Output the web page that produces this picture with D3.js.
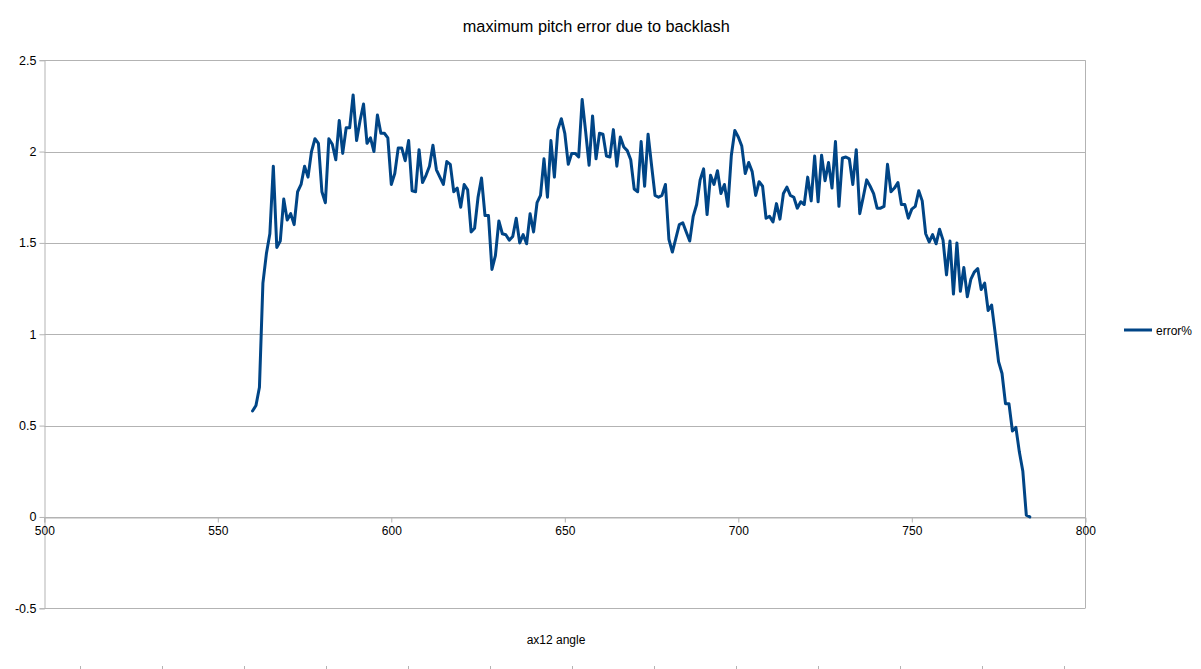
<!DOCTYPE html>
<html>
<head>
<meta charset="utf-8">
<script src="https://cdn.jsdelivr.net/npm/d3@7"></script>
<style>
  html, body { margin: 0; padding: 0; background: #ffffff; }
  svg { display: block; font-family: "Liberation Sans", Arial, sans-serif; }
</style>
</head>
<body>
<svg id="chart" width="1201" height="669"></svg>
<script>
// ---- data ----
const angles = [
  560,561,562,563,564,565,566,567,568,569,570,571,572,573,574,575,576,577,578,579,
  580,581,582,583,584,585,586,587,588,589,590,591,592,593,594,595,596,597,598,599,
  600,601,602,603,604,605,606,607,608,609,610,611,612,613,614,615,616,617,618,619,
  620,621,622,623,624,625,626,627,628,629,630,631,632,633,634,635,636,637,638,639,
  640,641,642,643,644,645,646,647,648,649,650,651,652,653,654,655,656,657,658,659,
  660,661,662,663,664,665,666,667,668,669,670,671,672,673,674,675,676,677,678,679,
  680,681,682,683,684,685,686,687,688,689,690,691,692,693,694,695,696,697,698,699,
  700,701,702,703,704,705,706,707,708,709,710,711,712,713,714,715,716,717,718,719,
  720,721,722,723,724,725,726,727,728,729,730,731,732,733,734,735,736,737,738,739,
  740,741,742,743,744,745,746,747,748,749,750,751,752,753,754,755,756,757,758,759,
  760,761,762,763,764,765,766,767,768,769,770,771,772,773,774,775,776,777,778,779,
  780,781,782,783,784
];
const errorPct = [
  0.58,0.61,0.71,1.28,1.44,1.55,1.92,1.475,1.51,1.74,1.625,1.66,1.60,1.78,1.82,1.92,1.86,2.00,2.07,2.045,
  1.78,1.72,2.07,2.04,1.955,2.17,1.99,2.13,2.13,2.31,2.06,2.17,2.26,2.045,2.075,2.00,2.20,2.10,2.10,2.075,
  1.82,1.88,2.02,2.02,1.95,2.06,1.785,1.78,2.01,1.83,1.87,1.92,2.035,1.90,1.86,1.82,1.945,1.93,1.78,1.80,
  1.695,1.82,1.79,1.56,1.58,1.75,1.855,1.65,1.65,1.355,1.43,1.62,1.55,1.545,1.515,1.535,1.635,1.50,1.545,1.495,
  1.66,1.56,1.72,1.76,1.96,1.75,2.06,1.86,2.12,2.18,2.10,1.93,1.99,1.99,1.97,2.285,2.11,1.925,2.195,1.96,
  2.10,2.095,1.975,1.97,2.12,1.92,2.08,2.025,2.005,1.955,1.795,1.78,2.055,1.81,2.095,1.925,1.76,1.75,1.76,1.82,
  1.52,1.45,1.525,1.60,1.61,1.56,1.51,1.645,1.71,1.845,1.905,1.655,1.87,1.82,1.895,1.77,1.82,1.70,1.98,2.115,
  2.08,2.03,1.88,1.94,1.89,1.76,1.835,1.81,1.635,1.645,1.615,1.715,1.63,1.77,1.805,1.76,1.75,1.69,1.725,1.71,
  1.86,1.73,1.975,1.725,1.98,1.84,1.94,1.80,2.055,1.70,1.965,1.97,1.96,1.82,2.01,1.66,1.75,1.845,1.81,1.77,
  1.69,1.69,1.70,1.93,1.78,1.80,1.83,1.71,1.71,1.635,1.685,1.70,1.785,1.73,1.55,1.505,1.545,1.495,1.575,1.515,
  1.325,1.51,1.22,1.50,1.235,1.365,1.205,1.30,1.34,1.36,1.245,1.28,1.13,1.16,1.01,0.85,0.785,0.62,0.62,0.47,
  0.49,0.355,0.25,0.01,0.00
];
const xTicks = [500, 550, 600, 650, 700, 750, 800];
const yTicks = [-0.5, 0, 0.5, 1, 1.5, 2, 2.5];
const yTickLabels = ["-0.5", "0", "0.5", "1", "1.5", "2", "2.5"];
const seriesName = "error%";
const titleText = "maximum pitch error due to backlash";
const xTitleText = "ax12 angle";

// ---- layout ----
const W = 1201, H = 669;
const plot = { left: 44.3, right: 1085.3, top: 60.2, bottom: 608.3 };
const lineColor = "#004586";
const gridColor = "#b3b3b3";

const svg = d3.select("#chart");
const x = d3.scaleLinear().domain([500, 800]).range([plot.left, plot.right]);
const y = d3.scaleLinear().domain([-0.5, 2.5]).range([plot.bottom, plot.top]);

// title
svg.append("text")
  .attr("x", 596.3).attr("y", 31.5)
  .attr("text-anchor", "middle")
  .attr("font-size", 16.3).attr("fill", "#000")
  .text(titleText);

// horizontal gridlines
svg.append("g").selectAll("line").data(yTicks).join("line")
  .attr("x1", plot.left).attr("x2", plot.right)
  .attr("y1", d => Math.round(y(d)) + 0.5).attr("y2", d => Math.round(y(d)) + 0.5)
  .attr("stroke", gridColor).attr("stroke-width", 1);

// right border
svg.append("line")
  .attr("x1", Math.round(plot.right) + 0.5).attr("x2", Math.round(plot.right) + 0.5)
  .attr("y1", y(2.5)).attr("y2", y(-0.5))
  .attr("stroke", gridColor).attr("stroke-width", 1);

// y axis
const yAxis = d3.axisLeft(y).tickValues(yTicks)
  .tickFormat((d, i) => yTickLabels[i]).tickSize(5).tickPadding(3);
const gy = svg.append("g").attr("transform", `translate(${Math.round(plot.left) + 0.5},0)`).call(yAxis);
gy.select(".domain").attr("stroke", gridColor);
gy.selectAll(".tick line").attr("stroke", gridColor);
gy.selectAll(".tick text").attr("font-size", 12.5).attr("fill", "#000")
  .attr("font-family", "Liberation Sans, Arial, sans-serif");

// x axis at y = 0
const xAxis = d3.axisBottom(x).tickValues(xTicks).tickFormat(d3.format("d")).tickSize(5).tickPadding(4);
const gx = svg.append("g").attr("transform", `translate(0,${Math.round(y(0)) + 0.5})`).call(xAxis);
gx.select(".domain").attr("stroke", gridColor);
gx.selectAll(".tick line").attr("stroke", gridColor);
gx.selectAll(".tick text").attr("font-size", 12).attr("fill", "#000")
  .attr("font-family", "Liberation Sans, Arial, sans-serif");

// x title
svg.append("text")
  .attr("x", 556).attr("y", 644)
  .attr("text-anchor", "middle")
  .attr("font-size", 12).attr("fill", "#000")
  .text(xTitleText);

// tiny marks at bottom edge (secondary axis remnants)
const bottomScale = d3.scaleLinear().domain([0, 12]).range([79.5, 1063.5]);
svg.append("g").selectAll("line").data(d3.range(0, 13)).join("line")
  .attr("x1", d => Math.round(bottomScale(d)) + 0.5).attr("x2", d => Math.round(bottomScale(d)) + 0.5)
  .attr("y1", 666).attr("y2", 669)
  .attr("stroke", gridColor).attr("stroke-width", 1);

// series line
const data = angles.map((a, i) => ({ a, v: errorPct[i] }));
const line = d3.line().x(d => x(d.a)).y(d => y(d.v));
svg.append("path")
  .datum(data)
  .attr("d", line)
  .attr("fill", "none")
  .attr("stroke", lineColor)
  .attr("stroke-width", 3)
  .attr("stroke-linejoin", "round")
  .attr("stroke-linecap", "round");

// legend
const lg = svg.append("g");
lg.append("line")
  .attr("x1", 1124).attr("x2", 1152).attr("y1", 330).attr("y2", 330)
  .attr("stroke", lineColor).attr("stroke-width", 3);
lg.append("text")
  .attr("x", 1156).attr("y", 334.5)
  .attr("font-size", 12).attr("fill", "#000")
  .text(seriesName);
</script>
</body>
</html>
